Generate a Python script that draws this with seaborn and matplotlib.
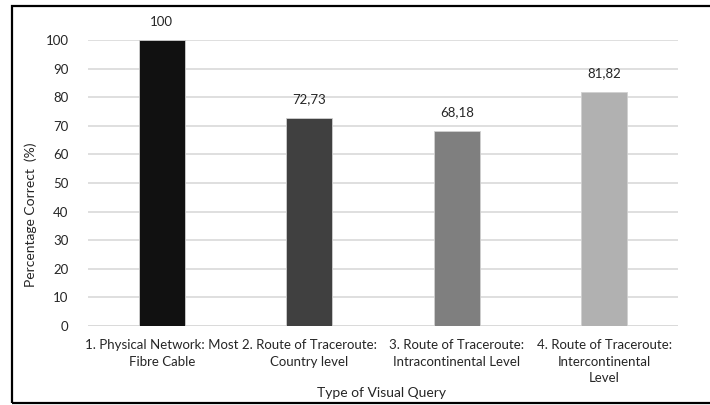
import matplotlib
matplotlib.use("Agg")
import matplotlib.pyplot as plt
from matplotlib.patches import Rectangle
import seaborn as sns
import pandas as pd

categories = [
    "1. Physical Network: Most\nFibre Cable",
    "2. Route of Traceroute:\nCountry level",
    "3. Route of Traceroute:\nIntracontinental Level",
    "4. Route of Traceroute:\nIntercontinental\nLevel",
]
values = [100, 72.73, 68.18, 81.82]
value_labels = ["100", "72,73", "68,18", "81,82"]
bar_colors = ["#111111", "#404040", "#7f7f7f", "#b1b1b1"]
y_ticks = [0, 10, 20, 30, 40, 50, 60, 70, 80, 90, 100]

sns.set_theme(style="white")
plt.rcParams["font.family"] = ["Lato", "DejaVu Sans"]
text_color = "#262626"

df = pd.DataFrame({"query": categories, "pct": values})

fig = plt.figure(figsize=(7.1, 4.05), dpi=100)
ax = fig.add_axes([88 / 710, 79 / 405, 590 / 710, 286 / 405])

sns.barplot(data=df, x="query", y="pct", hue="query", palette=bar_colors,
            width=0.31, legend=False, ax=ax, zorder=3,
            edgecolor="#d0d0d0", linewidth=0.6)

ax.set_ylim(0, 100)
ax.set_yticks(y_ticks)
ax.grid(axis="y", color="#d9d9d9", linewidth=1.2, zorder=0)
ax.set_axisbelow(True)
for s in ax.spines.values():
    s.set_visible(False)
ax.axhline(0, color="#d9d9d9", linewidth=1.2, zorder=1)

ax.tick_params(axis="y", length=0, pad=14, labelsize=9.5, labelcolor=text_color)
ax.tick_params(axis="x", length=0, pad=9.5, labelsize=9.5, labelcolor=text_color)
for t in ax.get_xticklabels():
    t.set_linespacing(1.45)

for i, (v, lab) in enumerate(zip(values, value_labels)):
    ax.annotate(lab, xy=(i, v), xytext=(0, 9), textcoords="offset points",
                ha="center", va="bottom", fontsize=9.5, color=text_color,
                annotation_clip=False)

ax.set_xlabel("Type of Visual Query", fontsize=10, color=text_color)
ax.xaxis.set_label_coords(0.497, -0.212)
ax.set_ylabel("Percentage Correct  (%)", fontsize=10, color=text_color)
ax.yaxis.set_label_coords(-0.087, 0.388)

fig.add_artist(Rectangle((11.5 / 710, 2.5 / 405), 1.2, 396.5 / 405,
                         transform=fig.transFigure, fill=False,
                         edgecolor="black", linewidth=1.6, clip_on=False))

fig.savefig("out.png", dpi=100)
